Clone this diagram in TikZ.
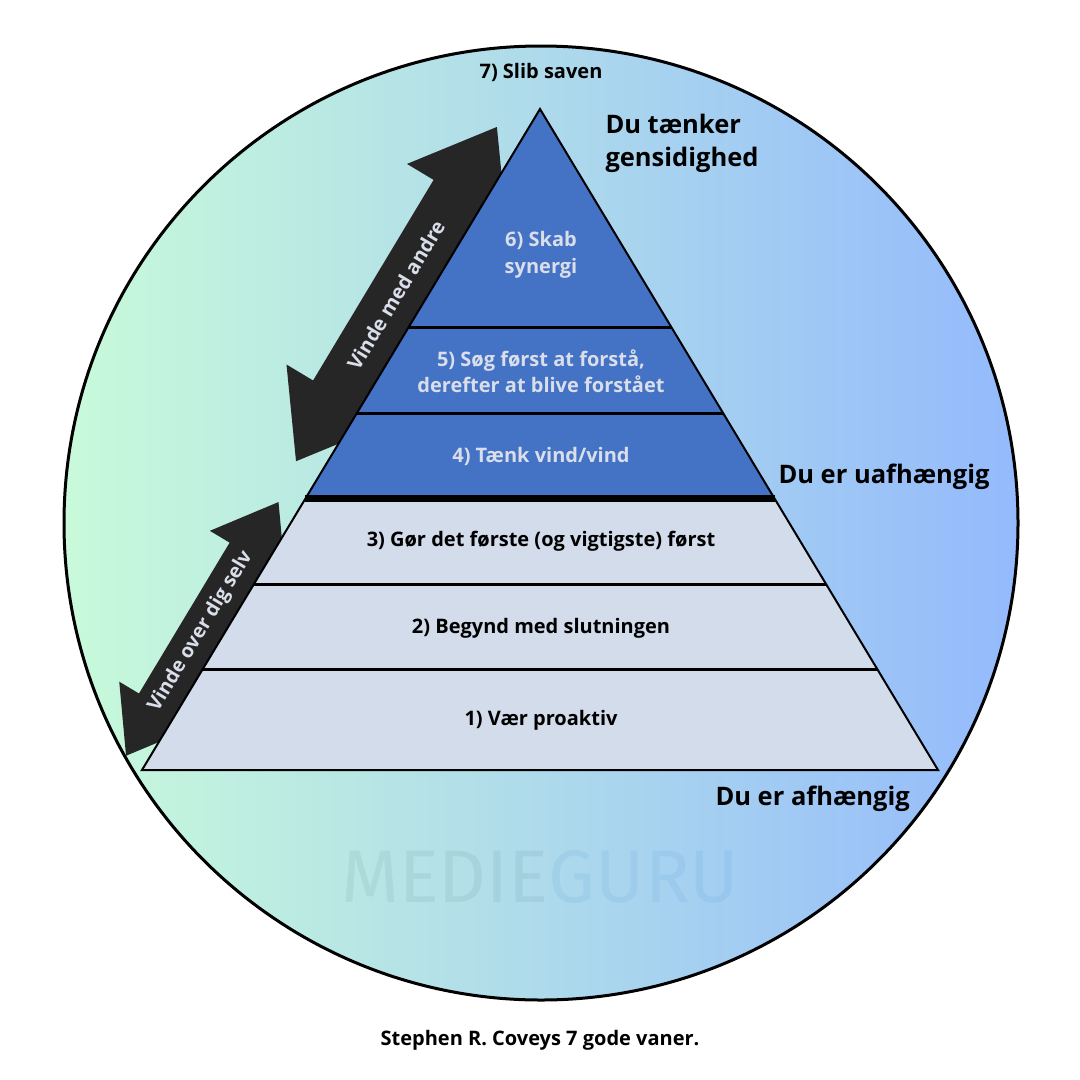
\documentclass[tikz,border=0pt]{standalone}
\usepackage{fontspec}
\setmainfont{Open Sans}
\newfontfamily\markfont{Fira Sans}
\usetikzlibrary{positioning}
\usetikzlibrary{calc}

\definecolor{mintbg}{HTML}{C8FADA}
\definecolor{midbg}{HTML}{B3DDE6}
\definecolor{bluebg}{HTML}{94BAFC}
\definecolor{toplayer}{HTML}{4472C4}
\definecolor{lowlayer}{HTML}{D3DCEB}
\definecolor{bandgray}{HTML}{262626}
\definecolor{palefont}{HTML}{D9DEEA}

\tikzset{
    toplevel/.style={fill=toplayer},
    lowlevel/.style={fill=lowlayer},
    divider/.style={draw=black, line width=1.2pt},
    band/.style={fill=bandgray},
    bandtext/.style={text=palefont, font=\bfseries\fontsize{7.9}{8}\selectfont},
    uptext/.style={text=palefont, align=center, font=\bfseries\fontsize{8}{10.6}\selectfont},
    lowtext/.style={text=black, align=center, font=\bfseries\fontsize{8}{10.6}\selectfont},
    stagetext/.style={text=black, align=left, inner sep=0pt, font=\bfseries\fontsize{10.2}{13.2}\selectfont},
}

\begin{document}
\begin{tikzpicture}[x=0.4pt, y=-0.4pt]
    \useasboundingbox (0,0) rectangle (1080,1080);
    \fill[white] (0,0) rectangle (1080,1080);

    % circle in the back
    \shade[left color=mintbg, middle color=midbg, right color=bluebg] (541,523) circle (477);
    \draw[line width=1.2pt] (541,523) circle (477);

    \node (mark) at (540,877) {\markfont\fontsize{29.8}{30}\selectfont
        \textcolor{black!70!teal}{\pgfsetfillopacity{0.06}MEDIE}\textcolor{cyan!60!blue}{\pgfsetfillopacity{0.08}GURU}};

    \coordinate (top) at (540,109);
    \coordinate (bl) at (142,770);
    \coordinate (br) at (938,770);

    % arrows along the left side
    \begin{scope}[shift={(bl)}, rotate=59]
        \fill[band] (4,-21) -- (64,-65) -- (64,-42) -- (240,-42) -- (240,-65) -- (300,-21)
            -- (240,23) -- (240,2) -- (64,2) -- (64,23) -- cycle;
        \node[bandtext, rotate=59] (selv) at (149,-21) {Vinde over dig selv};
        \fill[band] (344,-27) -- (422,-85) -- (422,-54) -- (656,-54) -- (656,-85) -- (734,-27)
            -- (656,31) -- (656,2) -- (422,2) -- (422,31) -- cycle;
        \node[bandtext, font=\bfseries\fontsize{8}{8}\selectfont, rotate=59] (andre) at (538,-27) {Vinde med andre};
    \end{scope}

    % pyramid
    \coordinate (l5) at ($(top)!0.3313!(bl)$);  \coordinate (r5) at ($(top)!0.3313!(br)$);
    \coordinate (l4) at ($(top)!0.4614!(bl)$);  \coordinate (r4) at ($(top)!0.4614!(br)$);
    \coordinate (l3) at ($(top)!0.5900!(bl)$);  \coordinate (r3) at ($(top)!0.5900!(br)$);
    \coordinate (l2) at ($(top)!0.7186!(bl)$);  \coordinate (r2) at ($(top)!0.7186!(br)$);
    \coordinate (l1) at ($(top)!0.8487!(bl)$);  \coordinate (r1) at ($(top)!0.8487!(br)$);

    \fill[toplevel] (top) -- (r3) -- (l3) -- cycle;
    \fill[lowlevel] (l3) -- (r3) -- (br) -- (bl) -- cycle;
    \draw[divider] (l5) -- (r5);
    \draw[divider] (l4) -- (r4);
    \draw[divider] (l2) -- (r2);
    \draw[divider] (l1) -- (r1);
    \draw[divider, line width=2.8pt] (l3) -- (r3);
    \draw[line width=0.8pt, line join=miter] (top) -- (br) -- (bl) -- cycle;

    \node[uptext] (h6) at (541,255) {6) Skab\\synergi};
    \node[uptext] (h5) at (541,371) {5) Søg først at forstå,\\derefter at blive forstået};
    \node[uptext] (h4) at (541,456) {4) Tænk vind/vind};
    \node[lowtext] (h3) at (541,541) {3) Gør det første (og vigtigste) først};
    \node[lowtext] (h2) at (541,628) {2) Begynd med slutningen};
    \node[lowtext] (h1) at (541,720) {1) Vær proaktiv};

    % labels round it
    \node[lowtext] (h7) at (541,72) {7) Slib saven};
    \node[stagetext, anchor=west] (gensidig) at (605,143) {Du tænker\\gensidighed};
    \node[stagetext, anchor=west] (uafh) at (778,477) {Du er uafhængig};
    \node[stagetext, anchor=west] (afh) at (715,799) {Du er afhængig};

    \node[lowtext] (caption) at (540,1040) {Stephen R. Coveys 7 gode vaner.};
\end{tikzpicture}
\end{document}
